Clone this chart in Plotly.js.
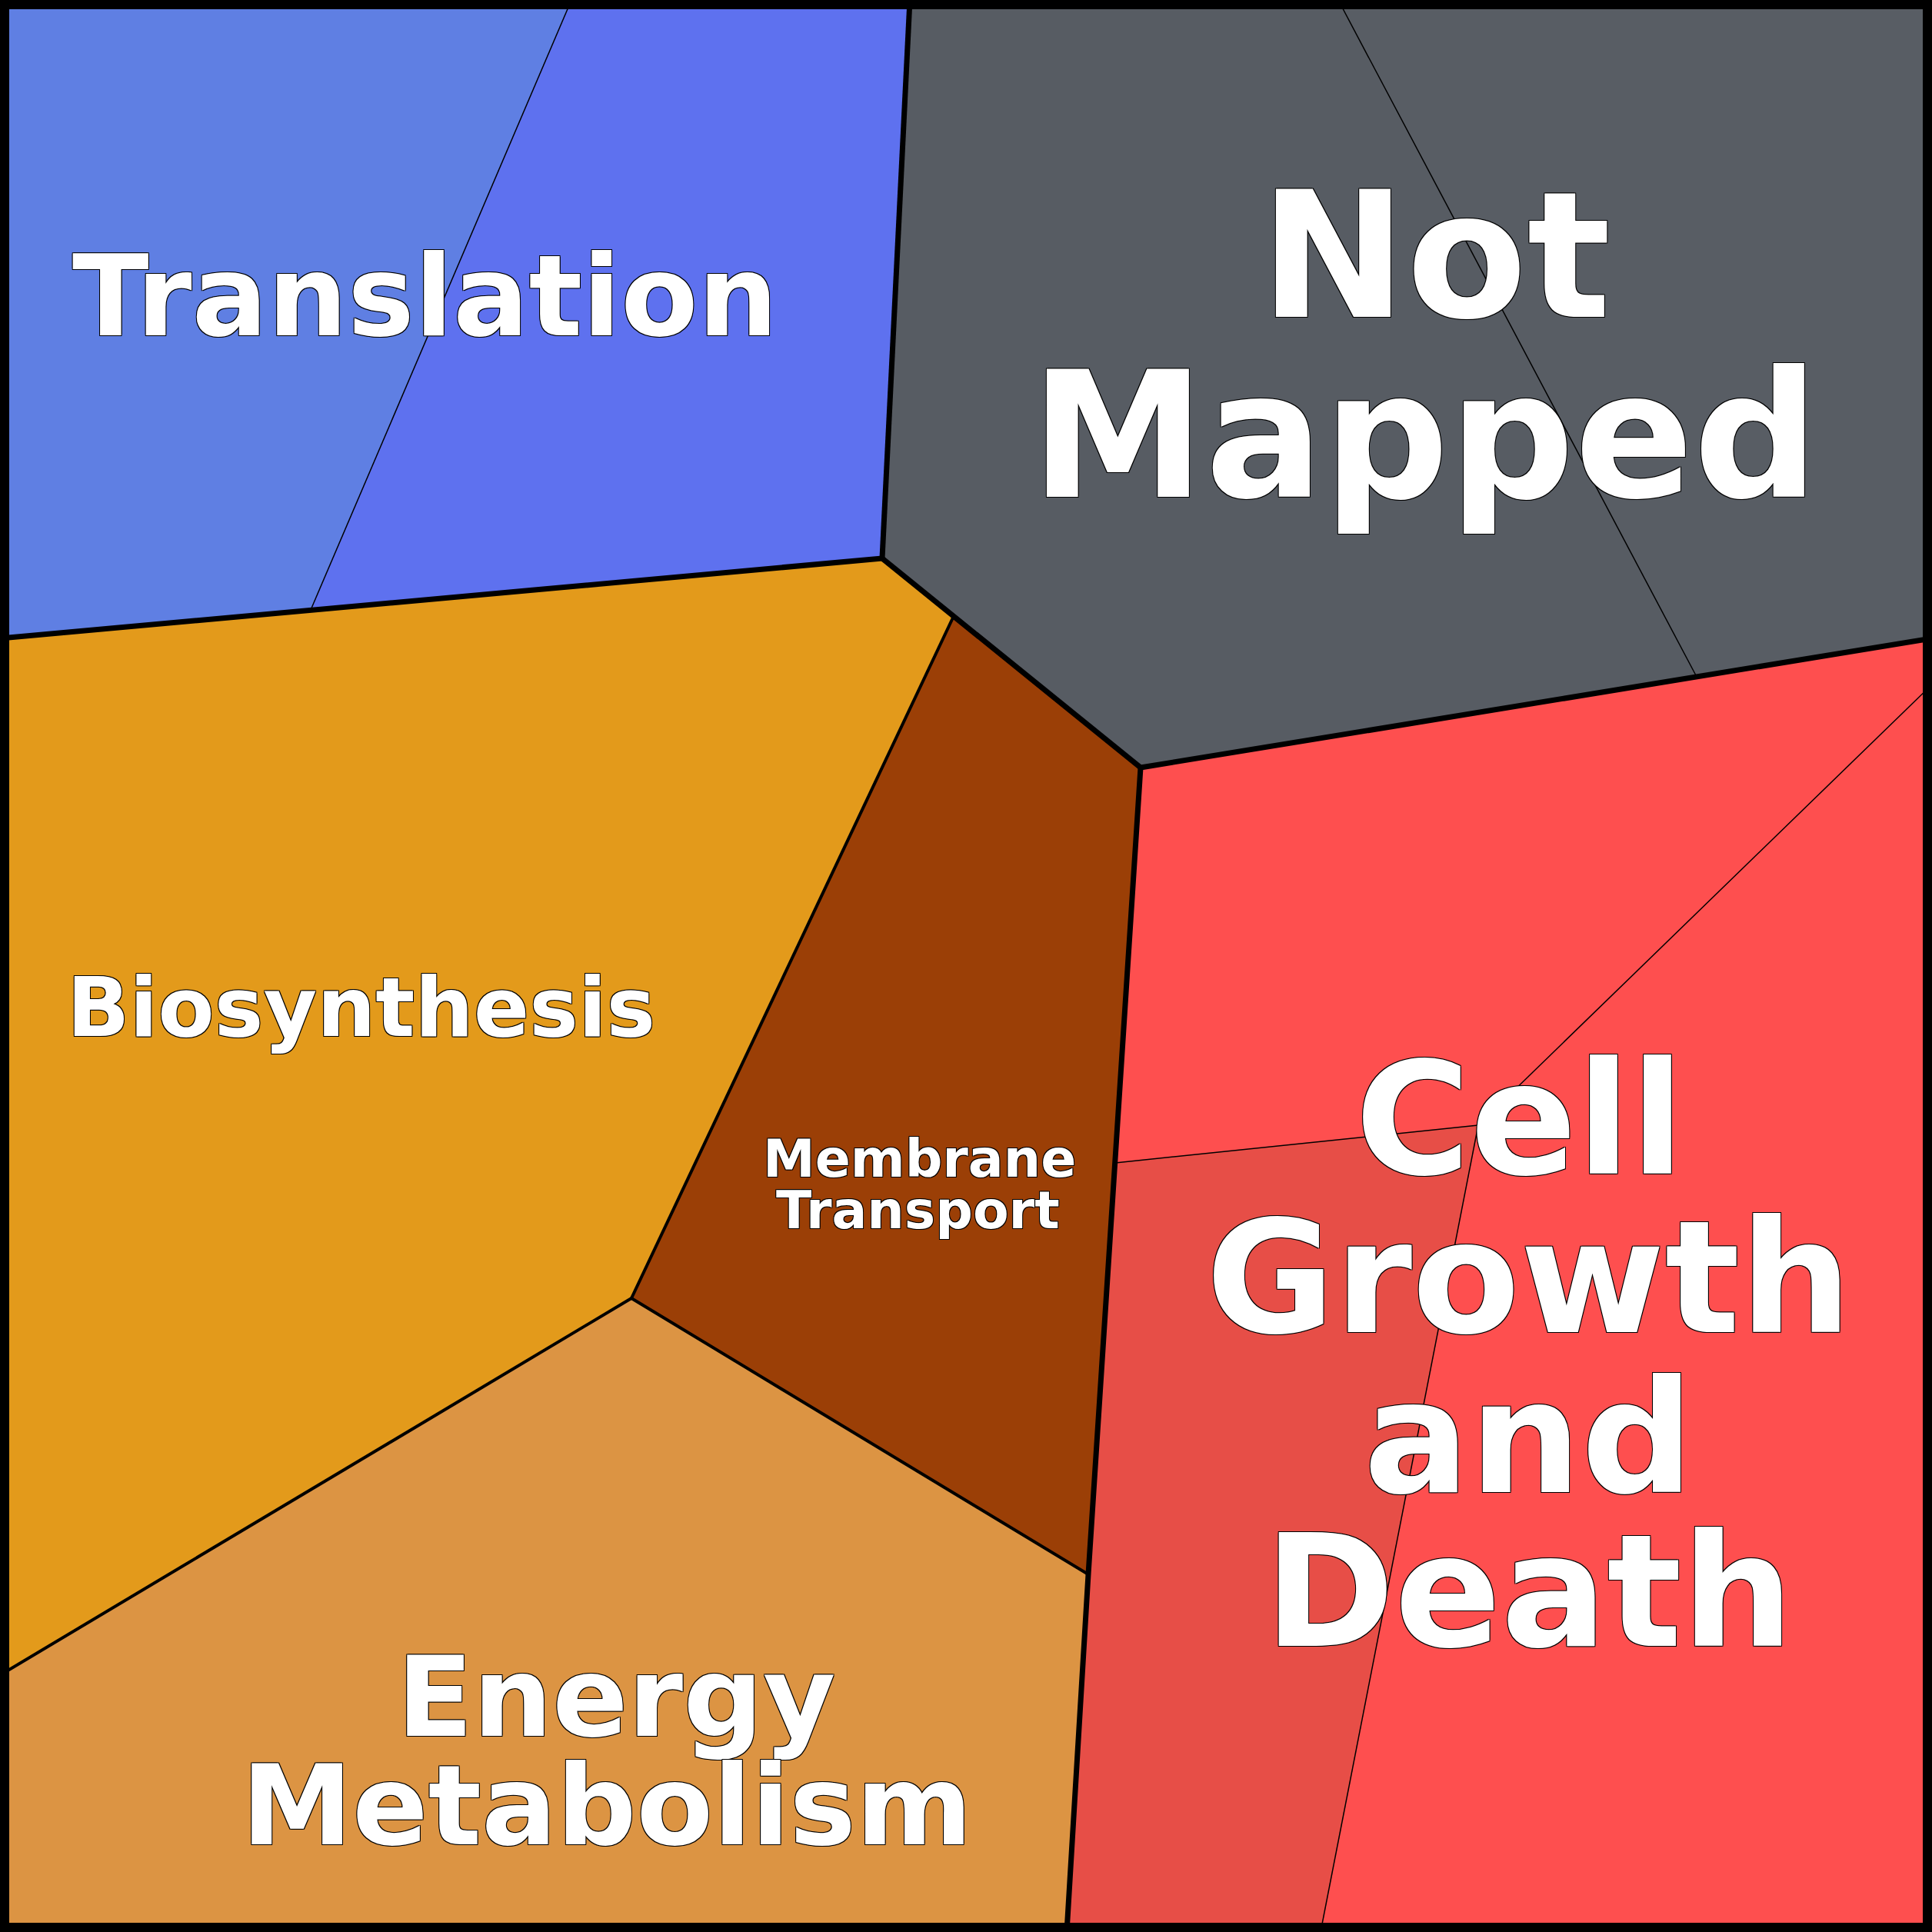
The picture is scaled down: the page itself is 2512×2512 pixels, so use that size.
<!DOCTYPE html>
<html><head><meta charset="utf-8">
<script src="https://cdn.plot.ly/plotly-3.0.1.min.js"></script>
<style>html,body{margin:0;padding:0;background:#fff;overflow:hidden}</style>
</head><body><div id="chart" style="width:2512px;height:2512px"></div>
<script>
// ---- DATA: Voronoi treemap cells (vertex coordinates in chart units, y downward) ----
const cellNames = ["Translation A","Translation B","Not Mapped A","Not Mapped B","Biosynthesis","Membrane Transport","Energy Metabolism","Cell Growth A","Cell Growth B","Cell Growth C"];
const cellGroups = ["Translation","Translation","Not Mapped","Not Mapped","Metabolism","Metabolism","Metabolism","Cell Growth and Death","Cell Growth and Death","Cell Growth and Death"];
const cellX = [
  [0, 743, 404, 0],
  [743, 1183, 1147, 404],
  [1183, 1740, 2206, 1483, 1240, 1147],
  [1740, 2512, 2512, 2206],
  [0, 404, 1147, 1240, 821, 0],
  [1240, 1483, 1415, 821],
  [0, 821, 1415, 1387, 0],
  [1483, 2512, 2512, 1922, 1450],
  [2512, 2512, 1717, 1922],
  [1450, 1922, 1717, 1387, 1415]
];
const cellY = [
  [0, 0, 793, 830],
  [0, 0, 726, 793],
  [0, 0, 880, 998, 801, 726],
  [0, 0, 830, 880],
  [830, 793, 726, 801, 1688, 2178],
  [801, 998, 2047, 1688],
  [2178, 1688, 2047, 2512, 2512],
  [998, 830, 890, 1463, 1512],
  [890, 2512, 2512, 1463],
  [1512, 1463, 2512, 2512, 2047]
];
// boundaries between cells, by hierarchy level (1 = top groups, 2 = sub-groups, 3 = leaves)
const edgeLevel = [1, 1, 1, 1, 1, 2, 2, 2, 3, 3, 3, 3, 3];
const edgeX = [
  [1183, 1147], [1147, 0], [1147, 1240, 1483], [1483, 2512], [1483, 1415, 1387],
  [1240, 821], [821, 0], [821, 1415],
  [743, 404], [1740, 2206], [2512, 1922], [1922, 1450], [1922, 1717]
];
const edgeY = [
  [0, 726], [726, 830], [726, 801, 998], [998, 830], [998, 2047, 2512],
  [801, 1688], [1688, 2178], [1688, 2047],
  [0, 793], [0, 880], [890, 1463], [1463, 1512], [1463, 2512]
];
const labelText = ["Translation", "Not", "Mapped", "Biosynthesis", "Membrane", "Transport", "Cell", "Growth", "and", "Death", "Energy", "Metabolism"];

// ---- STYLE / LAYOUT ----
const cellColors = ["#5f7fe3","#5e71ef","#575c63","#585d64","#e39a1b","#9b3f06","#dc9443","#fe4f4f","#fe4f4f","#e74e47"];
const levelWidth = {1: 7, 2: 4, 3: 1.5};
const labelPos = [
  [553, 385, 146], [1866, 333, 228], [1852, 567, 228], [469, 1310, 107],
  [1195, 1506, 68], [1193, 1573, 68],
  [1976, 1455, 204], [1987, 1661, 204], [1987, 1869, 204], [1988, 2069, 204],
  [801, 2206, 145], [789, 2347, 145]
];

const traces = [];
cellX.forEach((xs, i) => {
  traces.push({
    type: "scatter", mode: "lines", x: xs.concat([xs[0]]), y: cellY[i].concat([cellY[i][0]]),
    fill: "toself", fillcolor: cellColors[i], line: {color: cellColors[i], width: 1},
    name: cellNames[i], hoverinfo: "skip"
  });
});
edgeX.forEach((xs, i) => {
  traces.push({
    type: "scatter", mode: "lines", x: xs, y: edgeY[i],
    line: {color: "#000", width: levelWidth[edgeLevel[i]]}, hoverinfo: "skip"
  });
});

const outline = "-1px -1px 0 #000, 1px -1px 0 #000, -1px 1px 0 #000, 1px 1px 0 #000";
const annotations = labelText.map((t, i) => ({
  text: t, x: labelPos[i][0], y: labelPos[i][1], xref: "x", yref: "y",
  xanchor: "center", yanchor: "middle", showarrow: false,
  font: {family: "DejaVu Sans", size: labelPos[i][2], color: "#fff", weight: "bold", shadow: outline}
}));

const layout = {
  width: 2512, height: 2512, margin: {l: 0, r: 0, t: 0, b: 0, pad: 0},
  paper_bgcolor: "#fff", plot_bgcolor: "#fff", showlegend: false, hovermode: false,
  xaxis: {range: [0, 2512], visible: false, fixedrange: true},
  yaxis: {range: [2512, 0], visible: false, fixedrange: true},
  annotations: annotations,
  shapes: [{type: "rect", xref: "x", yref: "y", x0: 6, x1: 2506, y0: 6, y1: 2506, line: {color: "#000", width: 12}}]
};
Plotly.newPlot("chart", traces, layout, {staticPlot: true, displayModeBar: false});
</script></body></html>
